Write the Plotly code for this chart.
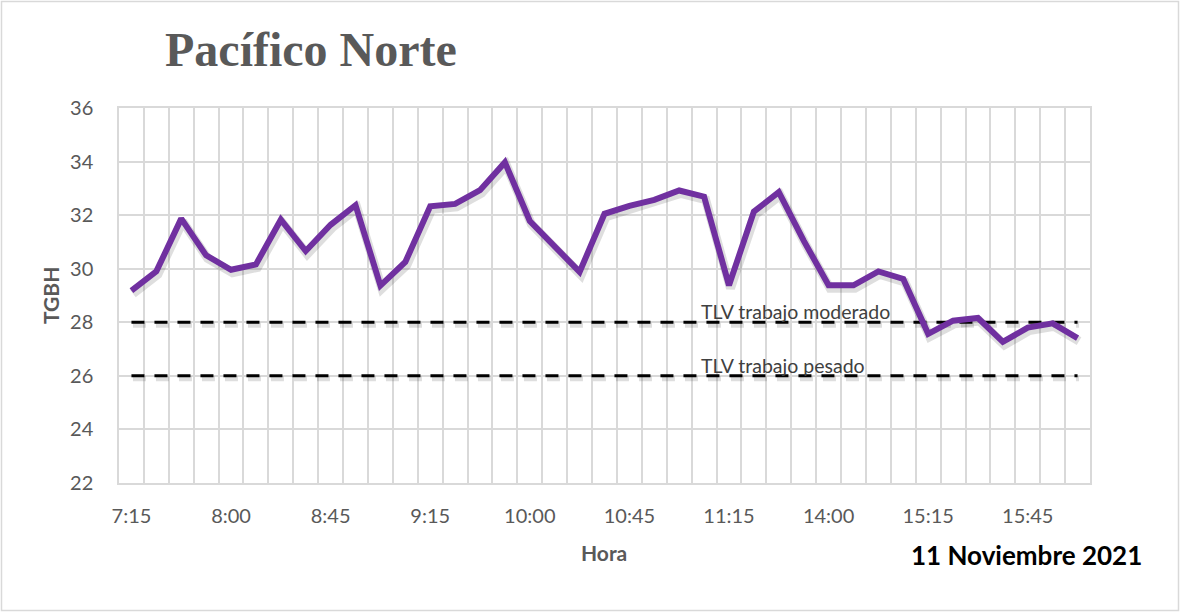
import plotly.graph_objects as go

# ---- data ----
tick_labels = ["7:15", "8:00", "8:45", "9:15", "10:00", "10:45", "11:15", "14:00", "15:15", "15:45"]
label_every = 4
tgbh = [29.18, 29.9, 31.87, 30.5, 29.96, 30.16, 31.83, 30.66, 31.64, 32.37,
        29.37, 30.25, 32.33, 32.42, 32.93, 33.97, 31.78, 30.85, 29.88, 32.05,
        32.35, 32.57, 32.92, 32.69, 29.38, 32.13, 32.86, 31.05, 29.38, 29.38,
        29.9, 29.62, 27.57, 28.06, 28.16, 27.27, 27.8, 27.96, 27.41]
TLV_MODERADO = 28
TLV_PESADO = 26
y_ticks = [22, 24, 26, 28, 30, 32, 34, 36]

n = len(tgbh)
idx = list(range(n))
moderado = [TLV_MODERADO] * n
pesado = [TLV_PESADO] * n

W, H = 1180, 612
ML, MR, MT, MB = 119, 90, 108, 129
PW, PH = W - ML - MR, H - MT - MB

def px(xp):
    return (xp - ML) / PW

def py(yp):
    return (H - MB - yp) / PH

xr = [-0.5, n - 0.5]
yr = [y_ticks[0], y_ticks[-1]]
# shadow offset (in axis units) -> ~1.5px right, ~3px down
dx = 1.5 / (PW / n)
dy = 3.0 / (PH / (yr[1] - yr[0]))

purple = "#7030A0"
grid = "#d9d9d9"
gray_txt = "#595959"
FONT = "Lato"

fig = go.Figure()

shadow = "rgba(0,0,0,0.13)"
# shadows on main (hidden, shifted) axes
fig.add_trace(go.Scatter(x=idx, y=moderado, mode="lines", xaxis="x", yaxis="y",
                         line=dict(color=shadow, width=5, dash="13px,10px"), hoverinfo="skip"))
fig.add_trace(go.Scatter(x=idx, y=pesado, mode="lines", xaxis="x", yaxis="y",
                         line=dict(color=shadow, width=5, dash="13px,10px"), hoverinfo="skip"))
fig.add_trace(go.Scatter(x=idx, y=tgbh, mode="lines", xaxis="x", yaxis="y",
                         line=dict(color=shadow, width=9), hoverinfo="skip"))

# real series on overlay axes
fig.add_trace(go.Scatter(x=idx, y=moderado, mode="lines", xaxis="x2", yaxis="y2",
                         line=dict(color="black", width=3, dash="13px,10px"), name="TLV trabajo moderado"))
fig.add_trace(go.Scatter(x=idx, y=pesado, mode="lines", xaxis="x2", yaxis="y2",
                         line=dict(color="black", width=3, dash="13px,10px"), name="TLV trabajo pesado"))
fig.add_trace(go.Scatter(x=idx, y=tgbh, mode="lines", xaxis="x2", yaxis="y2",
                         line=dict(color=purple, width=6), name="TGBH"))

hidden = dict(showgrid=False, zeroline=False, showticklabels=False, showline=False, ticks="")

fig.update_layout(
    width=W, height=H,
    margin=dict(l=ML, r=MR, t=MT, b=MB, autoexpand=False),
    paper_bgcolor="white", plot_bgcolor="white",
    showlegend=False,
    xaxis=dict(range=[xr[0] - dx, xr[1] - dx], **hidden),
    yaxis=dict(range=[yr[0] + dy, yr[1] + dy], **hidden),
    xaxis2=dict(
        overlaying="x", anchor="y2", side="bottom",
        range=xr, tickmode="array",
        tickvals=idx[::label_every], ticktext=tick_labels,
        showgrid=False, zeroline=False,
        showline=True, mirror=True, linecolor=grid, linewidth=1.5,
        ticks="outside", ticklen=0, tickcolor="white",
        ticklabelstandoff=14,
        tickfont=dict(family=FONT, size=20, color=gray_txt),
        minor=dict(tickmode="array", tickvals=[i - 0.5 for i in range(n + 1)],
                   showgrid=True, gridcolor=grid, gridwidth=1.5, ticks=""),
    ),
    yaxis2=dict(
        overlaying="y", anchor="x2", side="left",
        range=yr, tickmode="array", tickvals=y_ticks,
        showgrid=True, gridcolor=grid, gridwidth=1.5, zeroline=False,
        showline=True, mirror=True, linecolor=grid, linewidth=1.5,
        ticks="outside", ticklen=0, tickcolor="white",
        ticklabelstandoff=20,
        tickfont=dict(family=FONT, size=20, color=gray_txt),
    ),
    shapes=[dict(type="rect", xref="paper", yref="paper",
                 x0=px(1.5), x1=px(W - 1.5), y0=py(H - 1.5), y1=py(1.5),
                 line=dict(color=grid, width=1.5), fillcolor="rgba(0,0,0,0)", layer="below")],
    annotations=[
        dict(text="<b>Pacífico Norte</b>", xref="paper", yref="paper",
             x=px(311), y=py(49), xanchor="center", yanchor="middle", showarrow=False,
             font=dict(family="Liberation Serif", size=48, color=gray_txt)),
        dict(text="<b>TGBH</b>", xref="paper", yref="paper", textangle=-90,
             x=px(50.5), y=0.5, xanchor="center", yanchor="middle", showarrow=False,
             font=dict(family=FONT, size=21, color=gray_txt)),
        dict(text="<b>Hora</b>", xref="paper", yref="paper",
             x=px(604), y=py(552), xanchor="center", yanchor="middle", showarrow=False,
             font=dict(family=FONT, size=21, color=gray_txt)),
        dict(text="<b>11 Noviembre 2021</b>", xref="paper", yref="paper",
             x=px(1026), y=py(554.5), xanchor="center", yanchor="middle", showarrow=False,
             font=dict(family=FONT, size=26, color="black")),
        dict(text="TLV trabajo moderado", xref="paper", yref="y2",
             x=px(699), y=TLV_MODERADO, xanchor="left", yanchor="bottom", yshift=-3,
             showarrow=False, font=dict(family=FONT, size=19.5, color="#404040")),
        dict(text="TLV trabajo pesado", xref="paper", yref="y2",
             x=px(699), y=TLV_PESADO, xanchor="left", yanchor="bottom", yshift=-3,
             showarrow=False, font=dict(family=FONT, size=19.5, color="#404040")),
    ],
)

fig.write_html("out.html",
               config={"displayModeBar": False},
               post_script="document.body.style.margin='0';document.body.style.overflow='hidden';")
